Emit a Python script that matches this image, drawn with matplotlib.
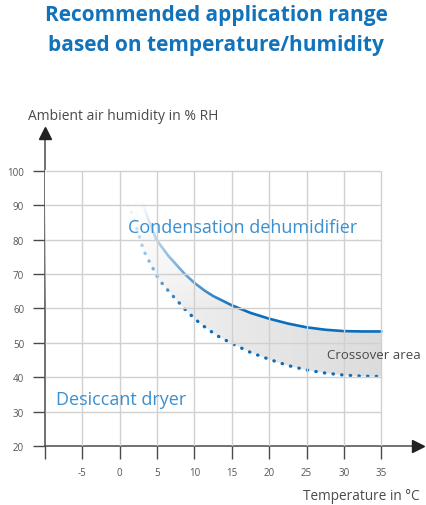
import numpy as np
import matplotlib
matplotlib.use("Agg")
from matplotlib import pyplot as plt
from matplotlib.colors import LinearSegmentedColormap

plt.rcParams['font.family'] = ['Open Sans', 'DejaVu Sans']

# values
x_ticks = [-10, -5, 0, 5, 10, 15, 20, 25, 30, 35]
x_labels = ['', '-5', '0', '5', '10', '15', '20', '25', '30', '35']
y_ticks = [20, 30, 40, 50, 60, 70, 80, 90, 100]

# upper limit: condensation dehumidifier (solid)
cond_temp = [2.7, 3.8, 4.9, 6.5, 8.7, 10, 11.4, 12.5, 15, 17.5, 20, 22.5, 25, 27.5, 30, 32.5, 35]
cond_rh = [92.8, 86, 80, 75.3, 70, 67.4, 65.1, 63.6, 60.9, 58.7, 57, 55.6, 54.5, 53.8, 53.4, 53.3, 53.3]

# lower limit: desiccant dryer (dotted)
dry_temp = [1.2, 2.3, 3.2, 4.3, 5.2, 6.7, 9, 10.8, 13, 15, 17.5, 20, 22.5, 25, 27.5, 30, 32.5, 35]
dry_rh = [90.4, 83.1, 76.8, 72.2, 68.5, 64.6, 59.1, 55.5, 52.1, 49.8, 47.2, 45.2, 43.4, 42.1, 41.2, 40.6, 40.3, 40.2]

blue = '#0a6ebd'
text_blue = '#3a8fd0'
grey = '#4a4a4a'

fig = plt.figure(figsize=(4.27, 5.06), dpi=100)
ax = fig.add_axes([45 / 427, 59 / 506, 373 / 427, 313 / 506])

# grid
ax.vlines(x_ticks[1:], 20, 100, color='#d0d0d0', lw=1.0, zorder=4)
ax.hlines(y_ticks[1:], -10, 35, color='#d0d0d0', lw=1.0, zorder=4)

# crossover area, grey gradient clipped to the band between the curves
band = ax.fill(cond_temp + dry_temp[::-1], cond_rh + dry_rh[::-1],
               facecolor='none', edgecolor='none')[0]
cmap = LinearSegmentedColormap.from_list('band', ['#f2f2f2', '#dcdcdc'])
grad = ax.imshow(np.linspace(0, 1, 256)[None, :], cmap=cmap, aspect='auto',
                 extent=(2, 35, 20, 100), zorder=1)
grad.set_clip_path(band)

ax.plot(cond_temp, cond_rh, color=blue, lw=1.9, solid_capstyle='round', zorder=2)
ax.plot(dry_temp, dry_rh, color=blue, lw=2.4, ls=(0, (0.1, 2.5)),
        dash_capstyle='round', zorder=2)

# fade towards the upper left
rows = np.linspace(100, 20, 200)
fade = np.ones((200, 1, 4))
fade[:, 0, 3] = np.clip((rows - 60) / (91 - 60), 0, 1) ** 0.8
ax.imshow(fade, aspect='auto', extent=(-10, 35, 20, 100), zorder=3)

ax.text(1.1, 83.7, 'Condensation dehumidifier', color=text_blue, fontsize=13,
        va='center', zorder=5)
ax.text(-8.5, 33.7, 'Desiccant dryer', color=text_blue, fontsize=13,
        va='center', zorder=5)
ax.text(27.7, 46.7, 'Crossover area', color=grey, fontsize=9.5, va='center', zorder=5)

# axes with arrows
ax.set_xlim(-10, 39.9)
ax.set_ylim(20, 111)
ax.spines[['top', 'right']].set_visible(False)
for s in ['left', 'bottom']:
    ax.spines[s].set_color(grey)
    ax.spines[s].set_linewidth(1.1)
ax.plot(1, 20, '>', color='#222222', ms=8, transform=ax.get_yaxis_transform(),
        clip_on=False, zorder=6)
ax.plot(-10, 1, '^', color='#222222', ms=8, transform=ax.get_xaxis_transform(),
        clip_on=False, zorder=6)

ax.set_xticks(x_ticks, x_labels)
ax.set_yticks(y_ticks)
ax.tick_params(colors=grey, labelcolor='#555555', labelsize=7, length=9,
               width=1.0, pad=6)

fig.text(28 / 427, 1 - 117 / 506, 'Ambient air humidity in % RH', color=grey,
         fontsize=10, va='center')
fig.text(420 / 427, 1 - 497 / 506, 'Temperature in °C', color=grey,
         fontsize=9.8, va='center', ha='right')

fig.text(0.506, 1 - 15 / 506, 'Recommended application range', color='#1273bb',
         fontsize=15, fontweight='bold', ha='center', va='center')
fig.text(0.506, 1 - 45 / 506, 'based on temperature/humidity', color='#1273bb',
         fontsize=15, fontweight='bold', ha='center', va='center')

fig.savefig('out.png', dpi=100)
